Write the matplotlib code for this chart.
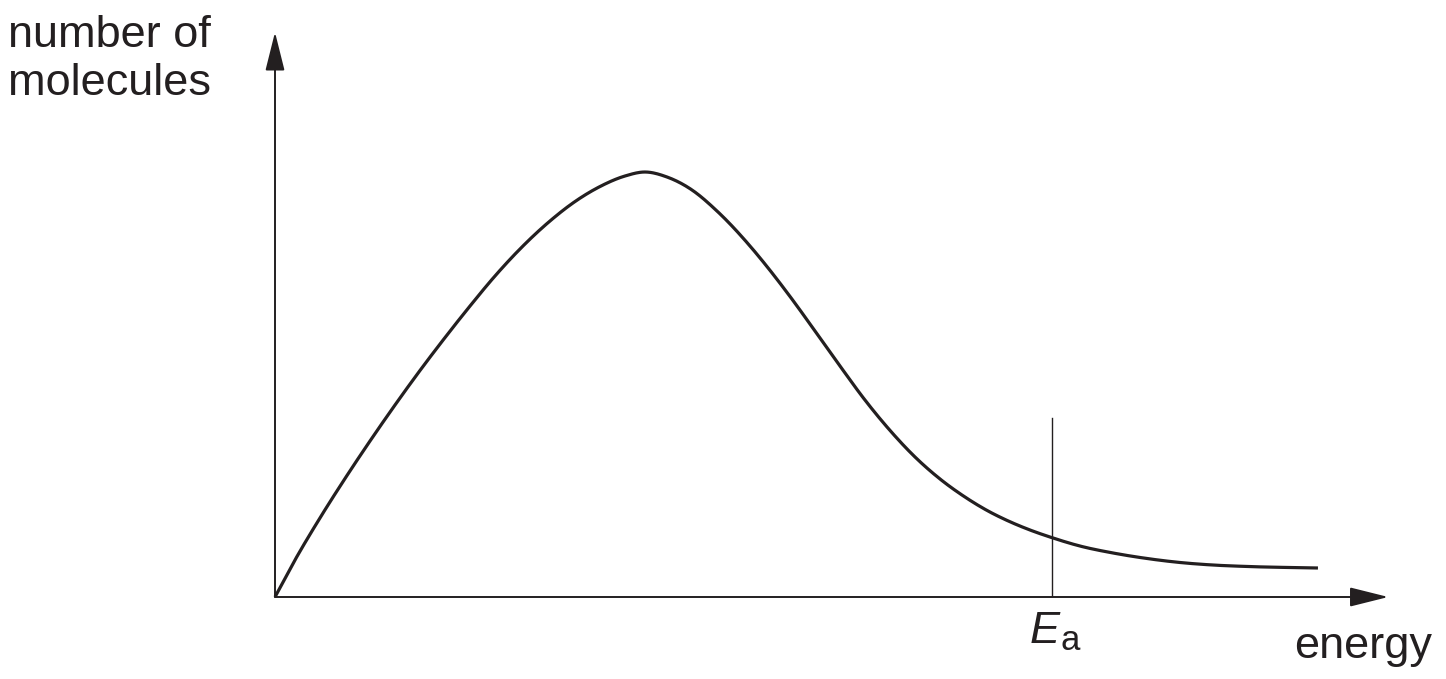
import matplotlib
matplotlib.use("Agg")
import matplotlib.pyplot as plt
import numpy as np

plt.rcParams["font.family"] = ["Liberation Sans", "DejaVu Sans"]

# curve: energy (0 at origin, 100 at arrow tip) vs number of molecules
energy = [0.0, 1.8, 4.05, 6.31, 8.56, 10.81, 13.06, 15.32, 17.57, 19.82, 22.07,
          24.77, 27.03, 29.28, 31.53, 33.33, 35.32, 37.57, 39.82, 42.79, 44.14,
          46.4, 48.65, 50.9, 53.15, 55.41, 57.66, 59.91, 62.16, 64.41, 65.77,
          68.02, 70.09, 72.52, 75.5, 78.56, 81.53, 84.5, 87.57, 93.96]
molecules = [0.0, 6.58, 14.06, 21.09, 27.76, 34.16, 40.3, 46.17, 51.78, 57.12, 61.92,
             66.9, 70.37, 73.04, 74.91, 75.62, 74.73, 72.42, 68.68, 62.46, 59.25,
             53.47, 47.33, 41.1, 35.05, 29.63, 24.91, 21.0, 17.79, 15.12, 13.79,
             11.92, 10.5, 9.07, 7.83, 6.85, 6.14, 5.69, 5.43, 5.16]
ea_x = 70.0
ea_top = 31.85

W, H = 1446, 679
fig = plt.figure(figsize=(W / 100, H / 100), dpi=100)
ax = fig.add_axes([275 / W, 1 - 597 / H, 1110 / W, 562 / H])
ax.set_xlim(0, 100)
ax.set_ylim(0, 100)
ax.axis("off")

# cubic Hermite through the read points so the line is drawn smooth
x = np.array(energy)
y = np.array(molecules)
h = np.diff(x)
d = np.diff(y) / h
m = np.empty_like(y)
m[0], m[-1] = d[0], d[-1]
m[1:-1] = (h[:-1] * d[1:] + h[1:] * d[:-1]) / (h[:-1] + h[1:])
xs, ys = [], []
for i in range(len(h)):
    t = np.linspace(0, 1, 16, endpoint=False)
    h00 = 2 * t**3 - 3 * t**2 + 1
    h10 = t**3 - 2 * t**2 + t
    h01 = -2 * t**3 + 3 * t**2
    h11 = t**3 - t**2
    xs.extend(x[i] + t * h[i])
    ys.extend(h00 * y[i] + h10 * h[i] * m[i] + h01 * y[i + 1] + h11 * h[i] * m[i + 1])
xs.append(x[-1])
ys.append(y[-1])
ax.plot(xs, ys, color="#231f20", lw=2.3, solid_capstyle="butt", clip_on=False)

ax.plot([ea_x, ea_x], [0, ea_top], color="#231f20", lw=1.0)

arrow = dict(arrowstyle="-|>,head_length=1.2,head_width=0.3", mutation_scale=20,
             color="#231f20", lw=1.4, shrinkA=0, shrinkB=0)
ax.annotate("", xy=(100.3, 0), xytext=(0, 0), arrowprops=arrow, annotation_clip=False)
ax.annotate("", xy=(0, 100.5), xytext=(0, 0), arrowprops=arrow, annotation_clip=False)

fs = 32.5
fig.text(8 / W, 1 - 15 / H, "number of\nmolecules", ha="left", va="top",
         fontsize=fs, color="#231f20", linespacing=1.22)
fig.text(1432 / W, 1 - 658 / H, "energy", ha="right", va="baseline",
         fontsize=fs, color="#231f20")
fig.text(1060 / W, 1 - 643 / H, "E", ha="right", va="baseline", fontsize=fs,
         style="italic", color="#231f20")
fig.text(1061 / W, 1 - 650 / H, "a", ha="left", va="baseline", fontsize=25,
         color="#231f20")

fig.savefig("out.png", dpi=100, facecolor="white")
